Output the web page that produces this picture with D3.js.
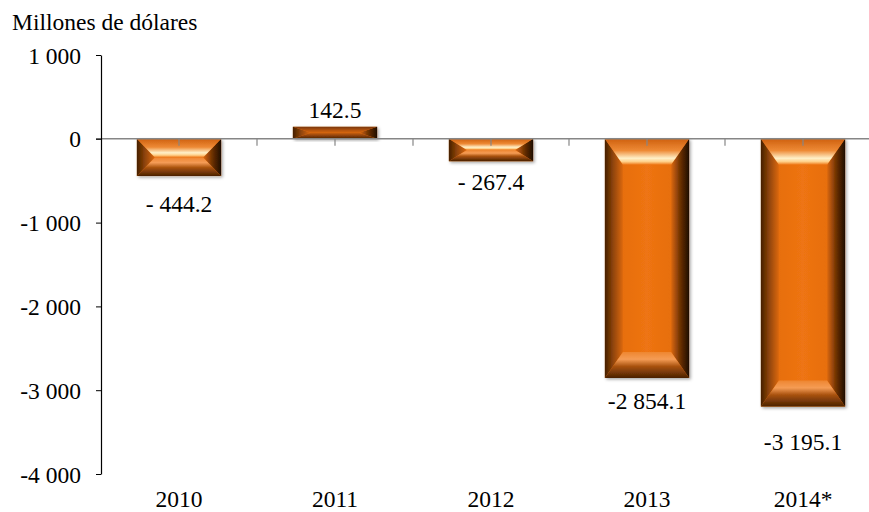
<!DOCTYPE html>
<html>
<head>
<meta charset="utf-8">
<script src="https://cdn.jsdelivr.net/npm/d3@7"></script>
<style>
  html, body { margin: 0; padding: 0; background: #fff; }
  svg text { font-family: "Liberation Serif", "Times New Roman", serif; fill: #000; }
</style>
</head>
<body>
<svg id="chart" width="869" height="512"></svg>
<script>
// Saldo anual, millones de dólares
const years = ["2010", "2011", "2012", "2013", "2014*"];
const values = [-444.2, 142.5, -267.4, -2854.1, -3195.1];
const valueLabels = ["- 444.2", "142.5", "- 267.4", "-2 854.1", "-3 195.1"];
const yTicks = [1000, 0, -1000, -2000, -3000, -4000];
const unitTitle = "Millones de dólares";

// layout
const W = 869, H = 512;
const fontSize = 23.5;
const plotLeft = 101, plotRight = 881, plotTop = 55, plotBottom = 474;
const labelGap = [36, 9, 29, 31, 43]; // distance of each value label's baseline from its bar end

const svg = d3.select("#chart");
const defs = svg.append("defs");

const x = d3.scaleBand().domain(years).range([plotLeft, plotRight]).padding(0);
const y = d3.scaleLinear().domain([-4000, 1000]).range([plotBottom, plotTop]);
const barW = x.bandwidth() * 0.54;

// gradients for the bevelled bar faces
function linGrad(id, x1, y1, x2, y2, stops) {
  const g = defs.append("linearGradient").attr("id", id)
    .attr("x1", x1).attr("y1", y1).attr("x2", x2).attr("y2", y2);
  stops.forEach(([o, c]) => g.append("stop").attr("offset", o).attr("stop-color", c));
}
linGrad("gFace", 0, 0, 1, 0, [[0, "#e26a0c"], [0.5, "#ee7412"], [1, "#e26a0c"]]);
linGrad("gTop", 0, 0, 0, 1, [[0, "#cf600e"], [0.45, "#ee8a36"], [0.75, "#fff0c8"], [0.88, "#ffcf88"], [1, "#ee7614"]]);
linGrad("gTopFlat", 0, 0, 0, 1, [[0, "#7a3606"], [0.6, "#b8560c"], [1, "#d2640e"]]);
linGrad("gBottom", 0, 0, 0, 1, [[0, "#ee8630"], [0.28, "#f59c55"], [0.55, "#a9520e"], [1, "#4a2102"]]);
linGrad("gBottomFlat", 0, 0, 0, 1, [[0, "#c8600e"], [0.5, "#8a4008"], [1, "#4a2102"]]);
linGrad("gLeft", 0, 0, 1, 0, [[0, "#452002"], [0.45, "#8e4408"], [1, "#dc680e"]]);
linGrad("gRight", 0, 0, 1, 0, [[0, "#dc680e"], [0.5, "#6e3204"], [1, "#1e0c00"]]);

const shadow = defs.append("filter").attr("id", "shadow")
  .attr("x", "-20%").attr("y", "-20%").attr("width", "140%").attr("height", "140%");
shadow.append("feDropShadow").attr("dx", 1.5).attr("dy", 1.5).attr("stdDeviation", 1.5)
  .attr("flood-color", "#000").attr("flood-opacity", 0.35);

// bars
const bars = svg.append("g").selectAll("g.bar")
  .data(values.map((v, i) => ({ v, year: years[i], label: valueLabels[i], gap: labelGap[i] })))
  .join("g").attr("class", "bar");

bars.each(function (d) {
  const g = d3.select(this).append("g").attr("filter", "url(#shadow)");
  const x0 = x(d.year) + (x.bandwidth() - barW) / 2;
  const x1 = x0 + barW;
  const y0 = Math.min(y(d.v), y(0));
  const y1 = Math.max(y(d.v), y(0));
  const h = y1 - y0;
  const bv = Math.min(26, h / 2);
  const bh = Math.min(18, barW / 2);
  const flat = h < 20;
  const pts = a => a.map(p => p.join(",")).join(" ");

  g.append("rect").attr("x", x0).attr("y", y0).attr("width", barW).attr("height", h)
    .attr("fill", "url(#gFace)");
  g.append("polygon").attr("points", pts([[x0, y0], [x0 + bh, y0 + bv], [x0 + bh, y1 - bv], [x0, y1]]))
    .attr("fill", "url(#gLeft)");
  g.append("polygon").attr("points", pts([[x1, y0], [x1 - bh, y0 + bv], [x1 - bh, y1 - bv], [x1, y1]]))
    .attr("fill", "url(#gRight)");
  g.append("polygon").attr("points", pts([[x0, y0], [x1, y0], [x1 - bh, y0 + bv], [x0 + bh, y0 + bv]]))
    .attr("fill", flat ? "url(#gTopFlat)" : "url(#gTop)");
  g.append("polygon").attr("points", pts([[x0 + bh, y1 - bv], [x1 - bh, y1 - bv], [x1, y1], [x0, y1]]))
    .attr("fill", flat ? "url(#gBottomFlat)" : "url(#gBottom)");
});

// zero line with category ticks
svg.append("line")
  .attr("x1", plotLeft - 5).attr("x2", plotRight)
  .attr("y1", y(0)).attr("y2", y(0))
  .attr("stroke", "#868686").attr("stroke-width", 1.5);

const tickXs = [];
years.forEach(yr => { tickXs.push(x(yr) + x.bandwidth() / 2); tickXs.push(x(yr) + x.bandwidth()); });
svg.append("g").selectAll("line").data(tickXs).join("line")
  .attr("x1", d => d).attr("x2", d => d)
  .attr("y1", y(0)).attr("y2", y(0) + 7)
  .attr("stroke", "#868686").attr("stroke-width", 1.2);

// y axis
const fmt = v => d3.format(",")(v).replace(/,/g, " ").replace("\u2212", "-");
const yAxis = d3.axisLeft(y).tickValues(yTicks).tickSize(5).tickSizeOuter(0).tickPadding(15)
  .tickFormat(fmt);
const ya = svg.append("g").attr("transform", `translate(${plotLeft},0)`).call(yAxis);
ya.attr("font-family", null).attr("font-size", null);
ya.select(".domain").attr("stroke", "#000").attr("stroke-width", 1.2);
ya.selectAll(".tick line").attr("stroke", "#000");
ya.selectAll(".tick text").attr("font-size", fontSize).attr("dy", "0.34em");

// value labels
bars.append("text")
  .attr("x", d => x(d.year) + x.bandwidth() / 2)
  .attr("y", d => d.v < 0 ? y(d.v) + d.gap : y(d.v) - d.gap)
  .attr("text-anchor", "middle")
  .attr("font-size", fontSize)
  .text(d => d.label);

// category labels
svg.append("g").selectAll("text").data(years).join("text")
  .attr("x", d => x(d) + x.bandwidth() / 2)
  .attr("y", 507)
  .attr("text-anchor", "middle")
  .attr("font-size", fontSize)
  .text(d => d);

// unit title
svg.append("text").attr("x", 12).attr("y", 30).attr("font-size", fontSize).text(unitTitle);
</script>
</body>
</html>
